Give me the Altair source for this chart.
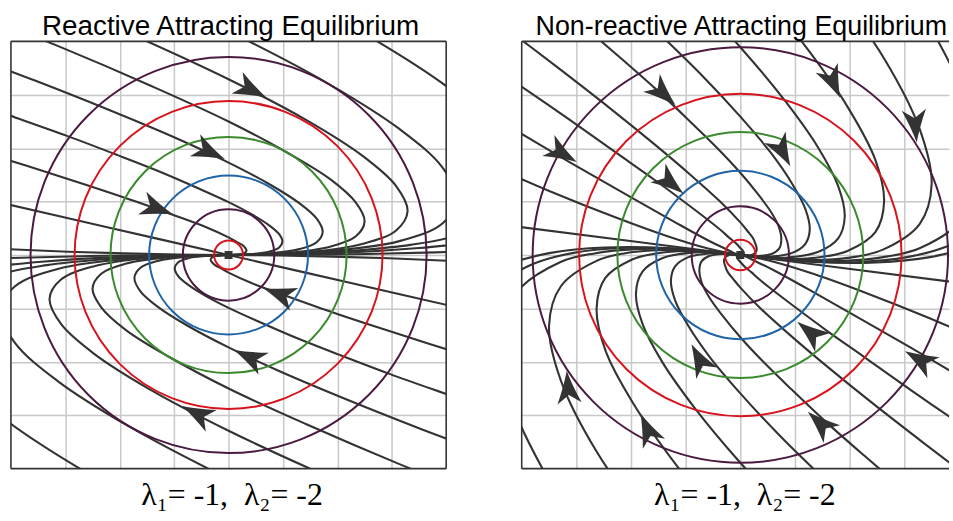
import altair as alt
import pandas as pd

# ---------------- text ----------------
TITLE_LEFT = "Reactive Attracting Equilibrium"
TITLE_RIGHT = "Non-reactive Attracting Equilibrium"
EIGEN_LABEL = "λ₁= -1,\u00a0 λ₂= -2"
GRID_TICKS = [-3, -2, -1, 0, 1, 2, 3]
Y_DOMAIN = [-4, 4]
X_DOMAIN_LEFT = [-4, 4]
X_DOMAIN_RIGHT = [-4, 3.818]   # right panel is cut by the picture edge

# ---------------- level circles (radius in grid units) ----------------
RING_IDS = ["inner red", "inner purple", "blue", "green", "red", "outer purple"]
RING_COLORS = ["#d7141d", "#4b1a40", "#1f64a6", "#3b8a2e", "#d7141d", "#4b1a40"]
RINGS_LEFT = [0.265, 0.84, 1.46, 2.17, 2.83, 3.64]
RINGS_RIGHT = [0.28, 0.89, 1.54, 2.25, 2.95, 3.80]

# ---------------- left panel trajectories (x, y) ----------------
LU1 = [[0,0],[1.28,0.02],[2.40,0.09],[3.34,0.19],[4.11,0.34],[5.14,0.77],[5.48,1.37],[5.14,2.14],[4.11,3.08],[2.40,4.20],[0,5.48]]
LU2 = [[0,0],[1.83,0.07],[3.14,0.26],[3.93,0.59],[4.19,1.05],[3.93,1.64],[3.14,2.36],[1.83,3.21],[0,4.19],[-2.36,5.30]]
LU3 = [[0,0],[1.44,0.05],[2.47,0.21],[3.08,0.46],[3.29,0.82],[3.08,1.29],[2.47,1.85],[1.44,2.52],[0,3.29],[-1.85,4.16],[-4.11,5.14]]
LU4 = [[0,0],[1.09,0.04],[1.88,0.16],[2.34,0.35],[2.50,0.63],[2.34,0.98],[1.88,1.41],[1.09,1.91],[0,2.50],[-1.41,3.16],[-3.13,3.91],[-5.16,4.73]]
LU5 = [[0,0],[0.76,0.03],[1.30,0.11],[1.62,0.24],[1.73,0.43],[1.62,0.68],[1.30,0.97],[0.76,1.32],[0,1.73],[-0.97,2.19],[-2.16,2.70],[-3.57,3.27],[-5.19,3.89]]
LU6 = [[0,0],[0.43,0.02],[0.74,0.06],[0.93,0.14],[0.99,0.25],[0.93,0.39],[0.74,0.56],[0.43,0.76],[0,0.99],[-0.56,1.25],[-1.24,1.55],[-2.04,1.87],[-2.97,2.23],[-4.02,2.61],[-5.20,3.03]]
LU7 = [[0,0],[0.14,0.005],[0.25,0.02],[0.31,0.05],[0.33,0.08],[0.31,0.13],[0.25,0.19],[0.14,0.25],[0,0.33],[-0.41,0.52],[-0.99,0.74],[-1.73,1.01],[-2.64,1.32],[-3.71,1.67],[-4.95,2.06]]
LU8 = [[0,0],[1.88,0.03],[3.50,0.13],[4.88,0.28]]
LU9 = [[0,0],[1.95,0.01],[3.80,0.05],[4.69,0.08]]
LU10 = [[0,0],[-0.93,0.01],[-1.91,0.03],[-2.95,0.06],[-4.05,0.11],[-5.20,0.18]]
LU11 = [[0,0],[-2.25,0.525],[-4.50,1.05]]

LD1 = [[0,0],[-1.28,-0.02],[-2.40,-0.09],[-3.34,-0.19],[-4.11,-0.34],[-5.14,-0.77],[-5.48,-1.37],[-5.14,-2.14],[-4.11,-3.08],[-2.40,-4.20],[0,-5.48]]
LD2 = [[0,0],[-1.83,-0.07],[-3.14,-0.26],[-3.93,-0.59],[-4.19,-1.05],[-3.93,-1.64],[-3.14,-2.36],[-1.83,-3.21],[0,-4.19],[2.36,-5.30]]
LD3 = [[0,0],[-1.44,-0.05],[-2.47,-0.21],[-3.08,-0.46],[-3.29,-0.82],[-3.08,-1.29],[-2.47,-1.85],[-1.44,-2.52],[0,-3.29],[1.85,-4.16],[4.11,-5.14]]
LD4 = [[0,0],[-1.09,-0.04],[-1.88,-0.16],[-2.34,-0.35],[-2.50,-0.63],[-2.34,-0.98],[-1.88,-1.41],[-1.09,-1.91],[0,-2.50],[1.41,-3.16],[3.13,-3.91],[5.16,-4.73]]
LD5 = [[0,0],[-0.76,-0.03],[-1.30,-0.11],[-1.62,-0.24],[-1.73,-0.43],[-1.62,-0.68],[-1.30,-0.97],[-0.76,-1.32],[0,-1.73],[0.97,-2.19],[2.16,-2.70],[3.57,-3.27],[5.19,-3.89]]
LD6 = [[0,0],[-0.43,-0.02],[-0.74,-0.06],[-0.93,-0.14],[-0.99,-0.25],[-0.93,-0.39],[-0.74,-0.56],[-0.43,-0.76],[0,-0.99],[0.56,-1.25],[1.24,-1.55],[2.04,-1.87],[2.97,-2.23],[4.02,-2.61],[5.20,-3.03]]
LD7 = [[0,0],[-0.14,-0.005],[-0.25,-0.02],[-0.31,-0.05],[-0.33,-0.08],[-0.31,-0.13],[-0.25,-0.19],[-0.14,-0.25],[0,-0.33],[0.41,-0.52],[0.99,-0.74],[1.73,-1.01],[2.64,-1.32],[3.71,-1.67],[4.95,-2.06]]
LD8 = [[0,0],[-1.88,-0.03],[-3.50,-0.13],[-4.88,-0.28]]
LD9 = [[0,0],[-1.95,-0.01],[-3.80,-0.05],[-4.69,-0.08]]
LD10 = [[0,0],[0.93,-0.01],[1.91,-0.03],[2.95,-0.06],[4.05,-0.11],[5.20,-0.18]]
LD11 = [[0,0],[2.25,-0.525],[4.50,-1.05]]

# ---------------- right panel trajectories (x, y) ----------------
RU1 = [[0,0],[1.03,-0.10],[1.92,-0.11],[2.67,-0.03],[3.29,0.13],[4.11,0.72],[4.38,1.66],[4.11,2.96],[3.29,4.60]]
RU2 = [[0,0],[0.82,-0.08],[1.53,-0.09],[2.13,-0.03],[2.63,0.11],[3.28,0.58],[3.50,1.33],[3.28,2.36],[2.63,3.68],[1.53,5.27]]
RU3 = [[0,0],[0.62,-0.06],[1.15,-0.07],[1.60,-0.02],[1.97,0.08],[2.47,0.43],[2.63,1.00],[2.47,1.78],[1.97,2.76],[1.15,3.96],[0,5.37]]
RU4 = [[0,0],[0.45,-0.04],[0.83,-0.05],[1.43,0.06],[1.79,0.31],[1.91,0.72],[1.79,1.29],[1.43,2.00],[0.83,2.87],[0,3.89],[-1.07,5.06]]
RU5 = [[0,0],[0.30,-0.03],[0.56,-0.03],[0.95,0.04],[1.19,0.21],[1.27,0.48],[1.19,0.86],[0.95,1.33],[0.56,1.91],[0,2.59],[-0.71,3.37],[-1.59,4.25]]
RU6 = [[0,0],[0.33,-0.02],[0.57,0.02],[0.71,0.12],[0.75,0.29],[0.71,0.51],[0.57,0.79],[0.33,1.13],[0,1.54],[-0.42,2.00],[-0.94,2.52],[-1.55,3.11],[-2.26,3.75],[-3.06,4.45]]
RU7 = [[0,0],[0.13,-0.01],[0.23,0.01],[0.28,0.05],[0.30,0.11],[0.28,0.20],[0.23,0.32],[0.13,0.45],[0,0.61],[-0.38,1.01],[-0.90,1.49],[-1.58,2.08],[-2.40,2.76],[-3.38,3.54],[-4.50,4.41]]
RU8 = [[0,0],[0.05,0.00],[0.065,0.025],[0.05,0.07],[0,0.13],[-0.08,0.22],[-0.20,0.32],[-0.34,0.45],[-0.52,0.60],[-0.98,0.96],[-1.56,1.40],[-2.28,1.92],[-3.12,2.53],[-4.10,3.22]]
RU9 = [[0,0],[1.17,-0.11],[2.19,-0.13],[3.05,-0.04],[3.75,0.15],[4.30,0.44]]
RU10 = [[0,0],[1.34,-0.13],[2.49,-0.14],[3.47,-0.04],[4.28,0.17]]
RU11 = [[0,0],[-0.08,0.02],[-0.20,0.08],[-0.62,0.29],[-1.24,0.64],[-2.07,1.12],[-3.11,1.73],[-4.35,2.48]]
RU12 = [[0,0],[-0.27,0.05],[-0.59,0.12],[-1.36,0.36],[-2.30,0.71],[-3.43,1.17],[-4.73,1.75]]
R_SLOW = [[-4.5,0.585],[0,0],[4.5,-0.585]]

RD1 = [[0,0],[-1.03,0.10],[-1.92,0.11],[-2.67,0.03],[-3.29,-0.13],[-4.11,-0.72],[-4.38,-1.66],[-4.11,-2.96],[-3.29,-4.60]]
RD2 = [[0,0],[-0.82,0.08],[-1.53,0.09],[-2.13,0.03],[-2.63,-0.11],[-3.28,-0.58],[-3.50,-1.33],[-3.28,-2.36],[-2.63,-3.68],[-1.53,-5.27]]
RD3 = [[0,0],[-0.62,0.06],[-1.15,0.07],[-1.60,0.02],[-1.97,-0.08],[-2.47,-0.43],[-2.63,-1.00],[-2.47,-1.78],[-1.97,-2.76],[-1.15,-3.96],[0,-5.37]]
RD4 = [[0,0],[-0.45,0.04],[-0.83,0.05],[-1.43,-0.06],[-1.79,-0.31],[-1.91,-0.72],[-1.79,-1.29],[-1.43,-2.00],[-0.83,-2.87],[0,-3.89],[1.07,-5.06]]
RD5 = [[0,0],[-0.30,0.03],[-0.56,0.03],[-0.95,-0.04],[-1.19,-0.21],[-1.27,-0.48],[-1.19,-0.86],[-0.95,-1.33],[-0.56,-1.91],[0,-2.59],[0.71,-3.37],[1.59,-4.25]]
RD6 = [[0,0],[-0.33,0.02],[-0.57,-0.02],[-0.71,-0.12],[-0.75,-0.29],[-0.71,-0.51],[-0.57,-0.79],[-0.33,-1.13],[0,-1.54],[0.42,-2.00],[0.94,-2.52],[1.55,-3.11],[2.26,-3.75],[3.06,-4.45]]
RD7 = [[0,0],[-0.13,0.01],[-0.23,-0.01],[-0.28,-0.05],[-0.30,-0.11],[-0.28,-0.20],[-0.23,-0.32],[-0.13,-0.45],[0,-0.61],[0.38,-1.01],[0.90,-1.49],[1.58,-2.08],[2.40,-2.76],[3.38,-3.54],[4.50,-4.41]]
RD8 = [[0,0],[-0.05,0.00],[-0.065,-0.025],[-0.05,-0.07],[0,-0.13],[0.08,-0.22],[0.20,-0.32],[0.34,-0.45],[0.52,-0.60],[0.98,-0.96],[1.56,-1.40],[2.28,-1.92],[3.12,-2.53],[4.10,-3.22]]
RD9 = [[0,0],[-1.17,0.11],[-2.19,0.13],[-3.05,0.04],[-3.75,-0.15],[-4.30,-0.44]]
RD10 = [[0,0],[-1.34,0.13],[-2.49,0.14],[-3.47,0.04],[-4.28,-0.17]]
RD11 = [[0,0],[0.08,-0.02],[0.20,-0.08],[0.62,-0.29],[1.24,-0.64],[2.07,-1.12],[3.11,-1.73],[4.35,-2.48]]
RD12 = [[0,0],[0.27,-0.05],[0.59,-0.12],[1.36,-0.36],[2.30,-0.71],[3.43,-1.17],[4.73,-1.75]]

LEFT_CURVES = [LU1, LU2, LU3, LU4, LU5, LU6, LU7, LU8, LU9, LU10, LU11,
               LD1, LD2, LD3, LD4, LD5, LD6, LD7, LD8, LD9, LD10, LD11]
RIGHT_CURVES = [RU1, RU2, RU3, RU4, RU5, RU6, RU7, RU8, RU9, RU10, RU11, RU12, R_SLOW,
                RD1, RD2, RD3, RD4, RD5, RD6, RD7, RD8, RD9, RD10, RD11, RD12]

# ---------------- arrowheads: x, y, heading (deg, clockwise) ----------------
ARROWS_LEFT = [[0.42, 3.09, 27], [-0.35, 1.93, 25], [-1.31, 0.87, 20],
               [-0.58, -2.97, 207], [0.38, -1.91, 205], [0.93, -0.73, 200]]
ARROWS_RIGHT = [[-1.41, 3.02, 43], [-3.26, 1.90, 30], [-1.28, 1.35, 39],
                [1.70, 3.23, 66], [3.20, 2.42, 85], [0.77, 1.94, 62],
                [-0.75, -1.95, 242], [-3.15, -2.48, 265], [-1.70, -3.26, 246],
                [1.28, -1.45, 219], [3.28, -1.96, 210], [1.46, -3.15, 223]]

EQUILIBRIUM = [[0, 0]]

ARROW_PATH = "M1,0 Q0.1,-0.25 -0.95,-0.72 L-0.45,0 L-0.95,0.72 Q0.1,0.25 1,0 Z"
LINE_COLOR = "#333333"
GRID_COLOR = "#c8c8c8"


def curve_frame(curves):
    rows = []
    for k, pts in enumerate(curves):
        for i, (x, y) in enumerate(pts):
            rows.append({"cid": k, "i": i, "x": x, "y": y})
    return pd.DataFrame(rows)


def frame_edges(xd, with_right):
    x0, x1 = xd
    y0, y1 = Y_DOMAIN
    edges = [[x0, y0, x0, y1], [x0, y0, x1, y0], [x0, y1, x1, y1]]
    if with_right:
        edges.append([x1, y0, x1, y1])
    return pd.DataFrame(edges, columns=["x", "y", "x2", "y2"])


def panel(curves, rings, arrows, title, title_size, title_dx, width, xd, with_right, ppu, label_x):
    xs = alt.Scale(domain=xd, nice=False, zero=False)
    ys = alt.Scale(domain=Y_DOMAIN, nice=False, zero=False)
    xaxis = alt.Axis(values=GRID_TICKS, grid=True, gridColor=GRID_COLOR, gridWidth=1.5,
                     gridOpacity=1, labels=False, ticks=False, domain=False,
                     title=EIGEN_LABEL, titleFont="Liberation Serif", titleFontSize=32,
                     titleFontWeight="normal", titleColor="#000000", titlePadding=11,
                     titleX=label_x)
    yaxis = alt.Axis(values=GRID_TICKS, grid=True, gridColor=GRID_COLOR, gridWidth=1.5,
                     gridOpacity=1, labels=False, ticks=False, domain=False, title=None)
    X = alt.X("x:Q", scale=xs, axis=xaxis)
    Y = alt.Y("y:Q", scale=ys, axis=yaxis)

    lines = alt.Chart(curve_frame(curves)).mark_line(
        color=LINE_COLOR, strokeWidth=2.1, clip=True, interpolate="catmull-rom"
    ).encode(x=X, y=Y, detail="cid:N", order="i:Q")

    rdf = pd.DataFrame({"ring": RING_IDS, "r": rings, "x": [0] * len(rings), "y": [0] * len(rings)})
    ring_layer = alt.Chart(rdf).mark_point(shape="circle", filled=False, strokeWidth=2, opacity=1).encode(
        x=X, y=Y,
        size=alt.Size("r:Q", scale=alt.Scale(type="pow", exponent=2, domain=[0, 4],
                                             range=[0, (8 * ppu) ** 2]), legend=None),
        color=alt.Color("ring:N", scale=alt.Scale(domain=RING_IDS, range=RING_COLORS), legend=None),
    )

    adf = pd.DataFrame(arrows, columns=["x", "y", "a"])
    arrow_layer = alt.Chart(adf).mark_point(
        shape=ARROW_PATH, filled=True, opacity=1, size=1150, color=LINE_COLOR, strokeWidth=0
    ).encode(x=X, y=Y, angle=alt.Angle("a:Q", scale=None))

    edf = pd.DataFrame(EQUILIBRIUM, columns=["x", "y"])
    eq_layer = alt.Chart(edf).mark_square(size=64, color=LINE_COLOR, opacity=1).encode(x=X, y=Y)

    frame = alt.Chart(frame_edges(xd, with_right)).mark_rule(
        color=LINE_COLOR, strokeWidth=1.6
    ).encode(x=X, y=Y, x2="x2:Q", y2="y2:Q")

    return alt.layer(lines, ring_layer, arrow_layer, eq_layer, frame).properties(
        width=width, height=430,
        title=alt.TitleParams(title, font="Liberation Sans", fontSize=title_size,
                              fontWeight="normal", color="#000000", anchor="middle",
                              dx=title_dx, offset=0),
    )


left = panel(LEFT_CURVES, RINGS_LEFT, ARROWS_LEFT, TITLE_LEFT, 28, 2, 438,
             X_DOMAIN_LEFT, True, 54.75, 222)
right = panel(RIGHT_CURVES, RINGS_RIGHT, ARROWS_RIGHT, TITLE_RIGHT, 27, 6, 430,
              X_DOMAIN_RIGHT, False, 55, 224)

chart = alt.hconcat(left, right, spacing=74).resolve_scale(
    size="independent", color="independent"
).properties(
    padding={"left": 10, "top": 11, "right": 0, "bottom": 0}
).configure_view(stroke=None)

chart.save("out.html", embed_options={"renderer": "svg", "actions": False})
